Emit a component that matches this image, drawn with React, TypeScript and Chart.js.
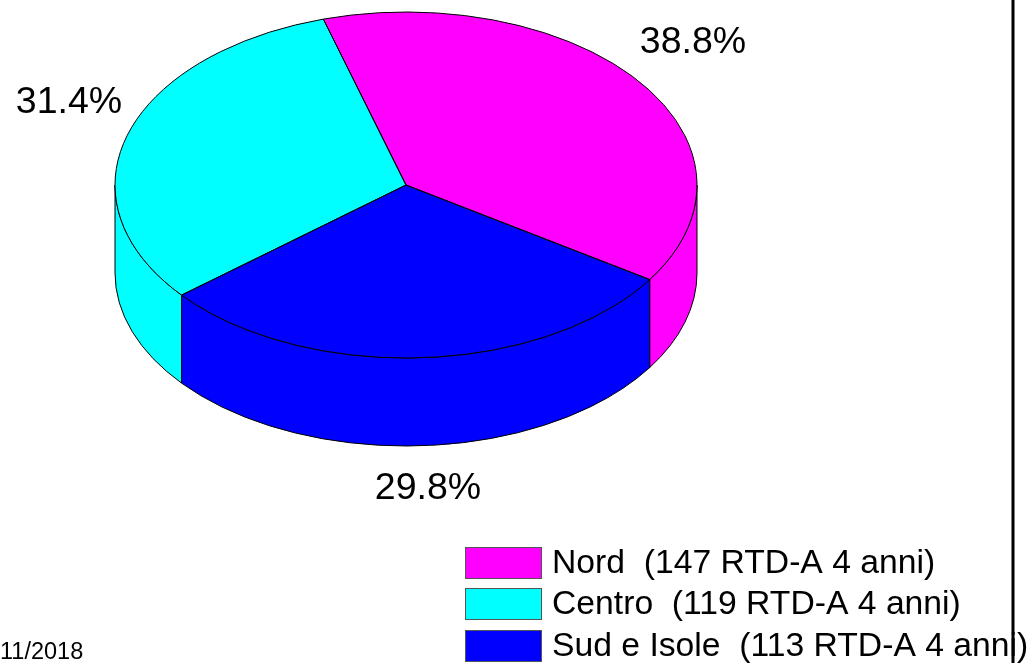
import React, { useEffect, useRef } from "react";
import { Chart, registerables } from "chart.js";

Chart.register(...registerables);

// Slices in clockwise drawing order
const regions = ["Nord", "Sud e Isole", "Centro"];
const counts = [147, 113, 119];
const percentLabels = ["38.8%", "29.8%", "31.4%"];
const colors = ["#ff00ff", "#0000ff", "#00ffff"];
// Legend in its own order
const legendLabels = ["Nord  (147 RTD-A 4 anni)", "Centro  (119 RTD-A 4 anni)", "Sud e Isole  (113 RTD-A 4 anni)"];
const legendColors = ["#ff00ff", "#00ffff", "#0000ff"];
const dateLabel = "11/2018";

const FONT = '"Liberation Sans", Arial, sans-serif';
const CX = 406, CY = 185, RX = 291, RY = 173, DEPTH = 88;
const labelPos = [[693, 43], [428, 489], [69, 103]];
const legendY = [563, 604, 646];

function pie3d() {
  return {
    id: "pie3d",
    beforeDatasetsDraw(chart: any) {
      const ctx = chart.ctx;
      const arcs = chart.getDatasetMeta(0).data;
      const TAU = Math.PI * 2;
      ctx.save();
      ctx.lineWidth = 1;
      ctx.strokeStyle = "#000";
      arcs.forEach((arc: any, i: number) => {
        let s = arc.startAngle, e = arc.endAngle;
        while (e <= 0) { s += TAU; e += TAU; }
        while (s >= Math.PI) { s -= TAU; e -= TAU; }
        const a = Math.max(s, 0), b = Math.min(e, Math.PI);
        if (b <= a) return;
        ctx.beginPath();
        ctx.ellipse(CX, CY, RX, RY, 0, a, b, false);
        ctx.ellipse(CX, CY + DEPTH, RX, RY, 0, b, a, true);
        ctx.closePath();
        ctx.fillStyle = colors[i];
        ctx.fill();
        ctx.stroke();
      });
      ctx.restore();
      const first = arcs[0];
      ctx.save();
      ctx.translate(CX, CY);
      ctx.scale(RX / first.outerRadius, RY / first.outerRadius);
      ctx.translate(-first.x, -first.y);
    },
    afterDatasetsDraw(chart: any) {
      const ctx = chart.ctx;
      ctx.restore();
      const arcs = chart.getDatasetMeta(0).data;
      ctx.save();
      ctx.lineWidth = 1;
      ctx.strokeStyle = "#000";
      arcs.forEach((arc: any) => {
        ctx.beginPath();
        ctx.moveTo(CX, CY);
        ctx.ellipse(CX, CY, RX, RY, 0, arc.startAngle, arc.endAngle, false);
        ctx.closePath();
        ctx.stroke();
      });
      ctx.restore();
    },
    afterDraw(chart: any) {
      const ctx = chart.ctx;
      ctx.save();
      ctx.fillStyle = "#000";
      ctx.textBaseline = "middle";
      ctx.textAlign = "center";
      ctx.font = `37.5px ${FONT}`;
      percentLabels.forEach((t, i) => ctx.fillText(t, labelPos[i][0], labelPos[i][1]));
      ctx.textAlign = "left";
      ctx.font = `33.7px ${FONT}`;
      legendLabels.forEach((t, i) => {
        ctx.fillStyle = legendColors[i];
        ctx.fillRect(465.5, legendY[i] - 15.5, 76, 31);
        ctx.strokeStyle = "#555";
        ctx.lineWidth = 1;
        ctx.strokeRect(465.5, legendY[i] - 15.5, 76, 31);
        ctx.fillStyle = "#000";
        ctx.fillText(t, 552, legendY[i] + 1);
      });
      ctx.font = `23.5px ${FONT}`;
      ctx.fillText(dateLabel, 0, 653);
      ctx.strokeStyle = "#000";
      ctx.lineWidth = 3;
      ctx.beginPath();
      ctx.moveTo(1013, 0);
      ctx.lineTo(1013, 663);
      ctx.stroke();
      ctx.restore();
    },
  };
}

export default function App() {
  const ref = useRef<HTMLCanvasElement>(null);
  useEffect(() => {
    document.body.style.margin = "0";
    document.body.style.background = "#fff";
    const chart = new Chart(ref.current!, {
      type: "pie",
      data: {
        labels: regions,
        datasets: [{ data: counts, backgroundColor: colors, borderWidth: 0 }],
      },
      options: {
        responsive: false,
        animation: false,
        rotation: -16.5,
        layout: { padding: { left: 115, right: 334, top: 40, bottom: 41 } },
        plugins: { legend: { display: false }, tooltip: { enabled: false } },
        events: [],
      },
      plugins: [pie3d()],
    });
    return () => chart.destroy();
  }, []);
  return <canvas ref={ref} width={1031} height={663} style={{ display: "block" }} />;
}
